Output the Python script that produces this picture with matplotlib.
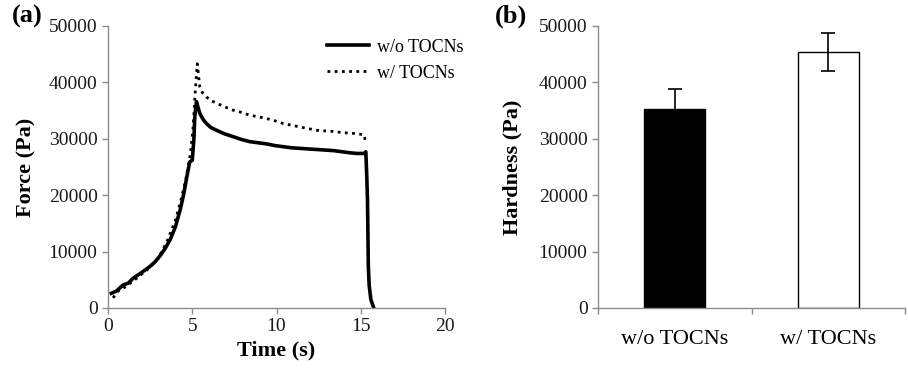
import matplotlib
matplotlib.use("Agg")
import matplotlib.pyplot as plt

plt.rcParams['font.family'] = ['Liberation Serif', 'DejaVu Serif']

# Panel (a): force vs time
t_wo = [0.2, 0.5, 0.9, 1.2, 1.5, 2.0, 2.5, 2.8, 3.1, 3.4, 3.7, 4.0, 4.3, 4.5, 4.7, 4.85, 5.0,
        5.1, 5.15, 5.25, 5.35, 5.45, 5.65, 5.85, 6.1, 6.45, 6.9, 7.4, 7.9, 8.4, 8.9,
        9.4, 9.9, 10.4, 10.9, 11.4, 11.9, 12.4, 12.9, 13.4, 13.9, 14.4, 14.8, 15.2,
        15.3, 15.35, 15.4, 15.45, 15.5, 15.6, 15.75]
f_wo = [2600, 3000, 4100, 4400, 5300, 6300, 7400, 8200, 9300, 10600, 12200, 14400, 17600,
        20300, 23600, 25900, 26200, 30000, 33900, 36600, 35500, 34500, 33400, 32700,
        32000, 31500, 30900, 30400, 29900, 29500, 29300, 29100, 28800, 28600, 28400,
        28300, 28200, 28100, 28000, 27900, 27700, 27500, 27400, 27400, 27700, 24000,
        19200, 7400, 4000, 1500, 200]

t_w = [0.3, 0.6, 1.0, 1.5, 2.0, 2.5, 3.0, 3.5, 4.0, 4.3, 4.6, 4.9, 5.05, 5.15, 5.25,
       5.3, 5.38, 5.45, 5.6, 5.85, 6.1, 6.45, 6.9, 7.4, 7.9, 8.4, 8.9, 9.4, 9.9, 10.4,
       10.9, 11.4, 11.9, 12.4, 12.9, 13.4, 13.9, 14.4, 14.8, 15.2, 15.3]
f_w = [1800, 3000, 3700, 4800, 6000, 7200, 8900, 11800, 15500, 18800, 22500, 27500,
       32000, 37000, 41500, 43300, 41000, 39200, 38200, 37400, 36800, 36300, 35700,
       35100, 34700, 34200, 33900, 33600, 33200, 32700, 32400, 32100, 31800, 31500,
       31400, 31300, 31100, 31000, 30900, 30700, 29200]

# Panel (b): hardness
categories = ['w/o TOCNs', 'w/ TOCNs']
hardness = [35300, 45400]
hardness_err = [3600, 3300]
bar_colors = ['black', 'white']

W, H = 908, 373
fig = plt.figure(figsize=(W / 100, H / 100), dpi=100)

spine_col = '#8c8c8c'
tick_fs = 14
label_fs = 16

def style(ax):
    for s in ['top', 'right']:
        ax.spines[s].set_visible(False)
    for s in ['left', 'bottom']:
        ax.spines[s].set_color(spine_col)
        ax.spines[s].set_linewidth(1.0)
    ax.tick_params(axis='both', direction='out', length=4, width=1.0,
                   color=spine_col, labelsize=tick_fs, labelcolor='#1a1a1a')

ax1 = fig.add_axes([108 / W, 1 - 308 / H, (445 - 108) / W, (308 - 26) / H])
style(ax1)
ax1.plot(t_wo, f_wo, color='black', lw=2.6, label='w/o TOCNs')
ax1.plot(t_w, f_w, color='black', lw=2.0, ls=(0, (1, 1.6)), label='w/ TOCNs')
ax1.set_xlim(0, 20)
ax1.set_ylim(0, 50000)
ax1.set_xticks([0, 5, 10, 15, 20])
ax1.set_yticks([0, 10000, 20000, 30000, 40000, 50000])
ax1.set_xlabel('Time (s)', fontsize=label_fs, fontweight='bold', labelpad=4)
ax1.set_ylabel('Force (Pa)', fontsize=label_fs, fontweight='bold', labelpad=9)
leg = ax1.legend(loc='upper left', bbox_to_anchor=(219 / 337, 0.955), frameon=False,
                 fontsize=13, handlelength=2.3, handletextpad=0.45,
                 labelspacing=0.5, borderaxespad=0.0, borderpad=0.0)
fig.text(12 / W, 1 - 16 / H, '(a)', fontsize=19, fontweight='bold', va='center', ha='left')

ax2 = fig.add_axes([598 / W, 1 - 308 / H, (905 - 598) / W, (308 - 26) / H])
style(ax2)
x = list(range(len(categories)))
ax2.bar(x, hardness, width=0.4, color=bar_colors, edgecolor='black', linewidth=1.0,
        yerr=hardness_err, error_kw=dict(ecolor='black', elinewidth=1.2, capsize=5, capthick=1.2),
        zorder=2)
ax2.set_xlim(-0.5, 1.5)
ax2.set_ylim(0, 50000)
ax2.set_yticks([0, 10000, 20000, 30000, 40000, 50000])
ax2.set_xticks([-0.5, 0.5, 1.5])
ax2.set_xticklabels([])
ax2.set_xticks(x, minor=True)
ax2.set_xticklabels(categories, minor=True)
ax2.tick_params(axis='x', which='minor', length=0, labelsize=16, pad=16)
ax2.set_ylabel('Hardness (Pa)', fontsize=label_fs, fontweight='bold', labelpad=12)
fig.text(495 / W, 1 - 16 / H, '(b)', fontsize=19, fontweight='bold', va='center', ha='left')

fig.savefig('out.png', dpi=100)
